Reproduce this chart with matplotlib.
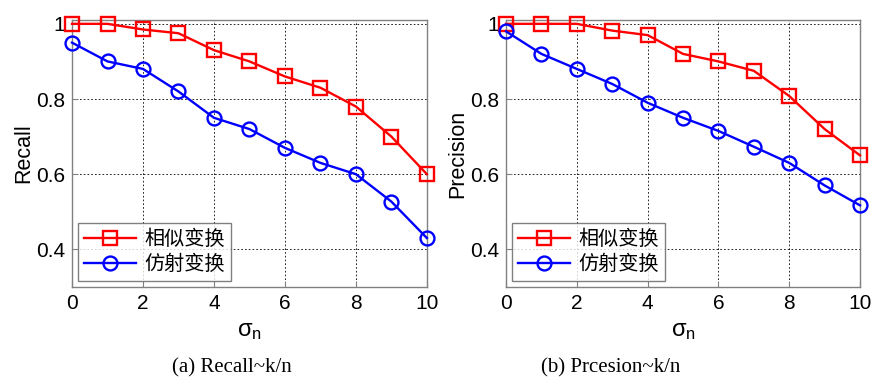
import matplotlib
matplotlib.use("Agg")
import matplotlib.pyplot as plt

plt.rcParams['font.family'] = ['Liberation Sans', 'Noto Sans CJK SC', 'DejaVu Sans']
plt.rcParams['mathtext.fontset'] = 'custom'
plt.rcParams['mathtext.rm'] = 'Liberation Sans'
plt.rcParams['mathtext.it'] = 'Liberation Sans'

sigma = [0, 1, 2, 3, 4, 5, 6, 7, 8, 9, 10]
recall_sim = [1.0, 1.0, 0.985, 0.975, 0.93, 0.90, 0.86, 0.83, 0.78, 0.70, 0.60]
recall_aff = [0.95, 0.90, 0.88, 0.82, 0.75, 0.72, 0.67, 0.63, 0.60, 0.527, 0.43]
prec_sim = [1.0, 1.0, 1.0, 0.982, 0.97, 0.92, 0.90, 0.875, 0.808, 0.72, 0.65]
prec_aff = [0.98, 0.92, 0.88, 0.84, 0.79, 0.75, 0.715, 0.673, 0.63, 0.57, 0.517]
labels = ['相似变换', '仿射变换']
ylabels = ['Recall', 'Precision']
captions = ['(a) Recall~k/n', '(b) Prcesion~k/n']
xticks = [0, 2, 4, 6, 8, 10]
yticks = [0.4, 0.6, 0.8, 1.0]
yticklabels = ['0.4', '0.6', '0.8', '1']

fig = plt.figure(figsize=(8.74, 3.79), dpi=100)
positions = [[0.0824, 0.243, 0.406, 0.704], [0.579, 0.243, 0.405, 0.704]]
caption_x = [0.265, 0.699]
data = [(recall_sim, recall_aff), (prec_sim, prec_aff)]

for i in range(2):
    ax = fig.add_axes(positions[i])
    s, a = data[i]
    ax.plot(sigma, s, color='#ff0000', lw=1.7, marker='s', ms=9.5,
            mfc='none', mec='#ff0000', mew=1.7, clip_on=False, label=labels[0], zorder=3)
    ax.plot(sigma, a, color='#0000ff', lw=1.7, marker='o', ms=10,
            mfc='none', mec='#0000ff', mew=1.7, clip_on=False, label=labels[1], zorder=3)
    ax.set_xlim(0, 10)
    ax.set_ylim(0.3, 1.01)
    ax.set_xticks(xticks)
    ax.set_yticks(yticks)
    ax.set_yticklabels(yticklabels)
    ax.grid(True, color='black', linestyle=(0, (2, 2.5)), linewidth=0.6)
    ax.tick_params(direction='in', labelsize=15, length=4, color='#808080', pad=5)
    for sp in ax.spines.values():
        sp.set_color('#808080')
        sp.set_linewidth(1.0)
    ax.set_ylabel(ylabels[i], fontsize=15.5, labelpad=1)
    ax.set_xlabel(r'$\sigma_{\mathrm{n}}$', fontsize=17, labelpad=5)
    leg = ax.legend(loc='lower left', frameon=True, fancybox=False,
                    edgecolor='#606060', borderpad=0.3, handlelength=2.6,
                    handletextpad=0.4, labelspacing=0.2, borderaxespad=0.3,
                    prop={'family': ['Noto Sans CJK SC'], 'size': 14.5})
    leg.get_frame().set_linewidth(1.0)
    fig.text(caption_x[i], 0.029, captions[i], ha='center', va='center',
             fontsize=15, family=['Liberation Serif'])

fig.savefig('out.png', dpi=100)
